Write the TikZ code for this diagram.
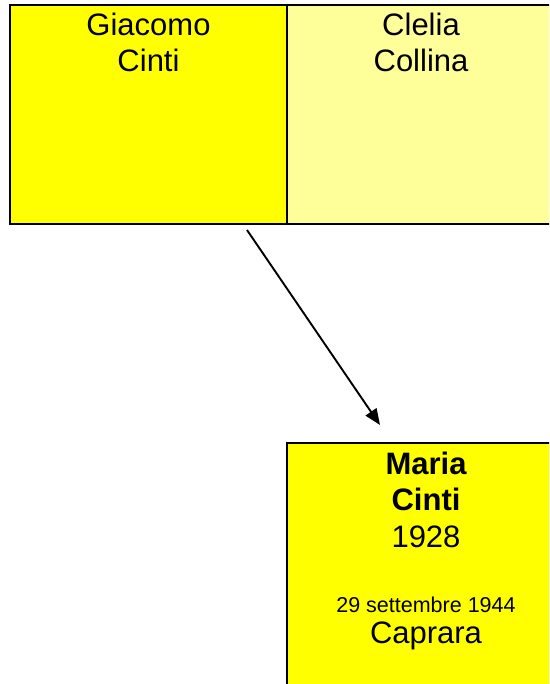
\documentclass[tikz,border=0pt]{standalone}
\usepackage{fontspec}
\setmainfont{Liberation Sans}
\usetikzlibrary{arrows.meta}
\definecolor{mainyellow}{HTML}{FFFF00}
\definecolor{paleyellow}{HTML}{FFFF99}
\tikzstyle{pbox}=[draw, line width=2.8pt, inner sep=0pt, outer sep=0pt, anchor=north west]
\tikzstyle{mpbox}=[pbox, fill=mainyellow]
\tikzstyle{ppbox}=[pbox, fill=paleyellow]
\tikzstyle{ptext}=[align=center, anchor=north, inner sep=0pt, font=\fontsize{31}{36.5}\selectfont]
\tikzstyle{pdate}=[anchor=base, inner sep=0pt, font=\fontsize{21.5}{25}\selectfont]

\begin{document}
\begin{tikzpicture}[x=1pt, y=-1pt]
        \useasboundingbox (0,0) rectangle (549,684);
        \clip (0,0) rectangle (549,684);
        \node[mpbox, minimum width=277pt, minimum height=219pt] (P1) at (10, 5) {};
        \node[ppbox, minimum width=268pt, minimum height=219pt] (P2) at (287, 5) {};
        \node[mpbox, minimum width=278pt, minimum height=300pt] (P3) at (287, 443) {};
        \node[ptext] (N1) at (148.5, 12.5) {Giacomo\\Cinti};
        \node[ptext] (N2) at (421, 12.5) {Clelia\\Collina};
        \node[ptext] (N3) at (426, 451.5) {{\bfseries Maria}\\{\bfseries Cinti}\\1928};
        \node[pdate] (D1) at (426, 612) {29 settembre 1944};
        \node[ptext, anchor=base] (D2) at (426, 643) {Caprara};
        \coordinate (A1) at ([xshift=98.5pt, yshift=-6pt]P1.south);
        \coordinate (A2) at ([xshift=-46pt, yshift=18pt]P3.north);
        \draw[-{Triangle[length=16pt, width=13pt]}, line width=1.9pt] (A1) -- (A2);
    \end{tikzpicture}
\end{document}
